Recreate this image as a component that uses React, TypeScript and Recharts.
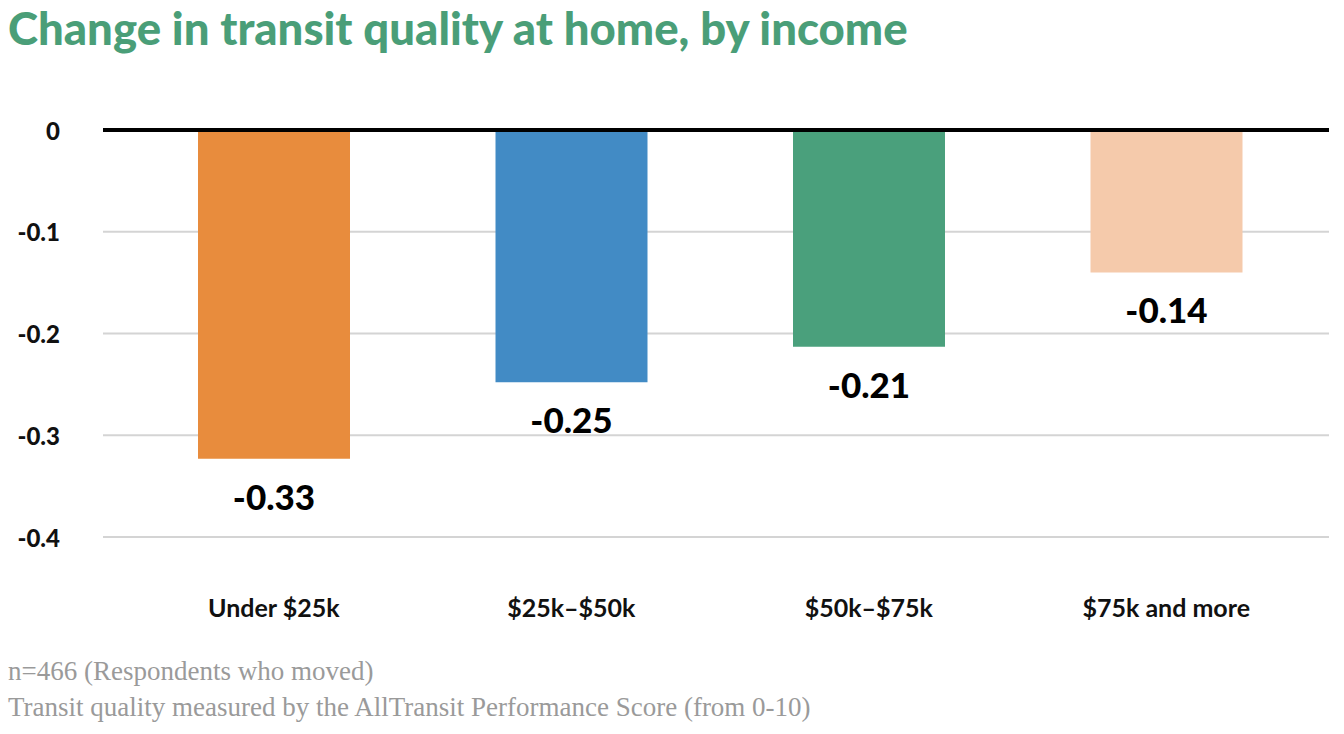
import React from 'react';
import { BarChart, Bar, XAxis, YAxis, CartesianGrid, ReferenceLine, Cell, LabelList } from 'recharts';

const categories = ['Under $25k', '$25k–$50k', '$50k–$75k', '$75k and more'];
const values = [-0.323, -0.248, -0.213, -0.14];
const valueLabels = ['-0.33', '-0.25', '-0.21', '-0.14'];
const barColors = ['#E88C3D', '#428BC5', '#4AA07C', '#F5CAAB'];
const yTicks = [0, -0.1, -0.2, -0.3, -0.4];

const data = categories.map((name, i) => ({ name, value: values[i], label: valueLabels[i] }));

const sans = 'Lato, "Noto Sans", sans-serif';

const YTick = (props: any) => {
  const { y, payload } = props;
  return (
    <text x={60} y={y} textAnchor="end" dominantBaseline="central" fontFamily={sans} fontWeight={900} fontSize={24} fill="#111">
      {payload.value === 0 ? '0' : String(payload.value)}
    </text>
  );
};

const XTick = (props: any) => {
  const { x, payload } = props;
  return (
    <text x={x} y={607} textAnchor="middle" dominantBaseline="central" fontFamily={sans} fontWeight={700} fontSize={25} fill="#111">
      {payload.value}
    </text>
  );
};

const ValueLabel = (props: any) => {
  const { x, y, width, height, index } = props;
  const bottom = Math.max(y, y + height);
  return (
    <text x={x + width / 2} y={bottom + 37} textAnchor="middle" dominantBaseline="central" fontFamily={sans} fontWeight={900} fontSize={35} fill="#000">
      {data[index].label}
    </text>
  );
};

export default function App() {
  return (
    <div style={{ position: 'absolute', left: 0, top: 0, width: 1344, height: 734, background: '#fff', overflow: 'hidden' }}>
      <div style={{ position: 'absolute', left: 8, top: 0, fontFamily: sans, fontWeight: 900, fontSize: 45.5, color: '#4A9E78', whiteSpace: 'nowrap' }}>
        Change in transit quality at home, by income
      </div>
      <div style={{ position: 'absolute', left: 0, top: 0 }}>
        <BarChart width={1344} height={734} data={data} margin={{ top: 130, right: 15, bottom: 117, left: 0 }}>
          <CartesianGrid vertical={false} stroke="#D4D4D4" strokeWidth={2} />
          <XAxis dataKey="name" axisLine={false} tickLine={false} tick={<XTick />} height={80} padding={{ left: 22, right: 14 }} interval={0} />
          <YAxis type="number" domain={[-0.4, 0]} ticks={yTicks} axisLine={false} tickLine={false} tick={<YTick />} width={103} />
          <Bar dataKey="value" barSize={152} isAnimationActive={false}>
            {data.map((d, i) => (
              <Cell key={d.name} fill={barColors[i]} />
            ))}
            <LabelList dataKey="label" content={<ValueLabel />} />
          </Bar>
          <ReferenceLine y={0} stroke="#000" strokeWidth={4} />
        </BarChart>
      </div>
      <div style={{ position: 'absolute', left: 8, top: 653, fontFamily: '"Liberation Serif", serif', fontSize: 27, color: '#9A9A9A', lineHeight: '36px', whiteSpace: 'nowrap' }}>
        <div>n=466 (Respondents who moved)</div>
        <div>Transit quality measured by the AllTransit Performance Score (from 0-10)</div>
      </div>
    </div>
  );
}
